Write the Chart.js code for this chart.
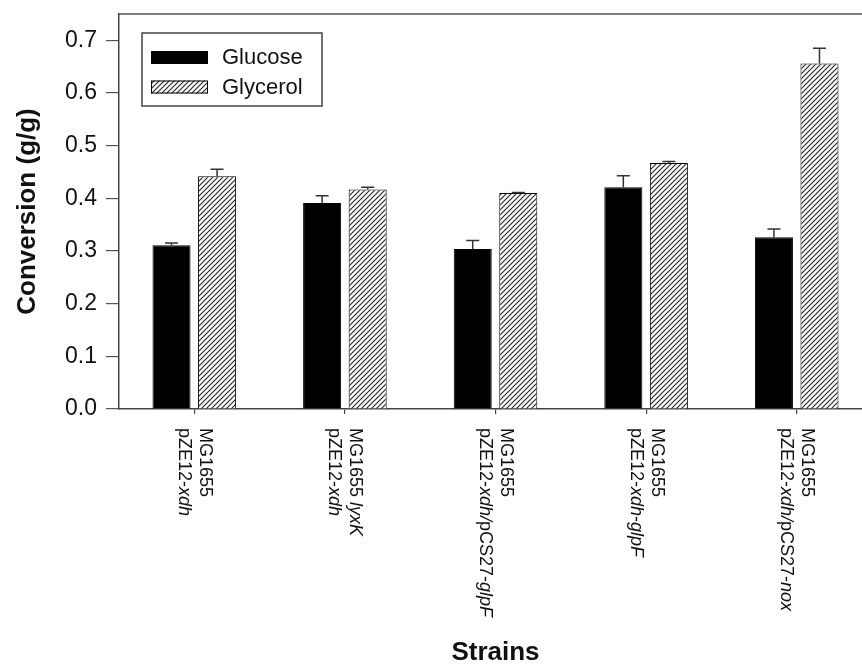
<!DOCTYPE html>
<html>
<head>
<meta charset="utf-8">
<script src="https://cdn.jsdelivr.net/npm/chart.js@4.4.1/dist/chart.umd.min.js"></script>
<style>
  html, body { margin: 0; padding: 0; background: #fff; overflow: hidden; }
  #wrap { width: 880px; height: 666px; position: relative; }
</style>
</head>
<body>
<div id="wrap"><canvas id="c"></canvas></div>
<script>
// Category labels: two lines each; segments between * are italic
const categories = [
  ["MG1655", "pZE12-*xdh*"],
  ["MG1655 *lyxK*", "pZE12-*xdh*"],
  ["MG1655", "pZE12-*xdh/*pCS27-*glpF*"],
  ["MG1655", "pZE12-*xdh*-*glpF*"],
  ["MG1655", "pZE12-*xdh/*pCS27-*nox*"]
];
const seriesNames = ["Glucose", "Glycerol"];
const glucose    = [0.311, 0.391, 0.304, 0.421, 0.326];
const glucoseErr = [0.004, 0.014, 0.016, 0.022, 0.016];
const glycerol    = [0.442, 0.417, 0.410, 0.467, 0.656];
const glycerolErr = [0.013, 0.004, 0.001, 0.003, 0.029];
const yTicks = [0, 0.1, 0.2, 0.3, 0.4, 0.5, 0.6, 0.7];
const yTitle = "Conversion (g/g)";
const xTitle = "Strains";

const FONT = "'Liberation Sans', Arial, sans-serif";

function hatchPattern() {
  const s = 5;
  const c = document.createElement('canvas');
  c.width = s; c.height = s;
  const g = c.getContext('2d');
  g.fillStyle = '#fff';
  g.fillRect(0, 0, s, s);
  g.strokeStyle = '#2a2a2a';
  g.lineWidth = 1.2;
  g.beginPath();
  g.moveTo(0, s); g.lineTo(s, 0);
  g.moveTo(-1, 1); g.lineTo(1, -1);
  g.moveTo(s - 1, s + 1); g.lineTo(s + 1, s - 1);
  g.stroke();
  return g.createPattern(c, 'repeat');
}
const hatch = hatchPattern();

const errorBars = {
  id: 'errorBars',
  afterDatasetsDraw(chart) {
    const ctx = chart.ctx;
    const ys = chart.scales.y;
    chart.data.datasets.forEach((ds, di) => {
      const meta = chart.getDatasetMeta(di);
      meta.data.forEach((el, i) => {
        const top = ys.getPixelForValue(ds.data[i] + ds.errors[i]);
        ctx.save();
        ctx.strokeStyle = '#333';
        ctx.lineWidth = 1.5;
        ctx.beginPath();
        ctx.moveTo(el.x, el.y);
        ctx.lineTo(el.x, top);
        ctx.moveTo(el.x - 6.5, top);
        ctx.lineTo(el.x + 6.5, top);
        ctx.stroke();
        ctx.restore();
      });
    });
  }
};

const frame = {
  id: 'frame',
  afterDraw(chart) {
    const {ctx, chartArea: a} = chart;
    ctx.save();
    ctx.strokeStyle = '#555';
    ctx.lineWidth = 1.5;
    ctx.beginPath();
    ctx.moveTo(a.left, a.top);
    ctx.lineTo(a.right, a.top);
    ctx.lineTo(a.right, a.bottom);
    ctx.stroke();
    ctx.restore();
  }
};

const legendBox = {
  id: 'legendBox',
  afterDraw(chart) {
    const ctx = chart.ctx;
    ctx.save();
    ctx.strokeStyle = '#444';
    ctx.lineWidth = 1.5;
    ctx.fillStyle = '#fff';
    ctx.fillRect(142, 33, 180, 73);
    ctx.strokeRect(142, 33, 180, 73);
    chart.data.datasets.forEach((ds, i) => {
      const y = 51 + i * 29.5;
      ctx.fillStyle = ds.backgroundColor;
      ctx.fillRect(151, y, 57, 13);
      ctx.strokeStyle = '#000';
      ctx.lineWidth = 1;
      ctx.strokeRect(151.5, y + 0.5, 56, 12);
      ctx.fillStyle = '#111';
      ctx.font = '22px ' + FONT;
      ctx.textBaseline = 'middle';
      ctx.textAlign = 'left';
      ctx.fillText(ds.label, 222, y + 7);
    });
    ctx.restore();
  }
};

const xLabels = {
  id: 'xLabels',
  afterDraw(chart) {
    const ctx = chart.ctx;
    const xs = chart.scales.x;
    ctx.save();
    ctx.fillStyle = '#111';
    ctx.textBaseline = 'middle';
    ctx.textAlign = 'left';
    categories.forEach((lines, i) => {
      const x = xs.getPixelForTick(i);
      ctx.save();
      ctx.translate(x, 428);
      ctx.rotate(Math.PI / 2);
      lines.forEach((line, li) => {
        const ly = (li === 0 ? -10.5 : 10.5);
        const parts = line.split('*');
        let lx = 0;
        parts.forEach((p, pi) => {
          if (!p) return;
          ctx.font = (pi % 2 === 1 ? 'italic ' : '') + '18px ' + FONT;
          ctx.fillText(p, lx, ly);
          lx += ctx.measureText(p).width;
        });
      });
      ctx.restore();
    });
    ctx.restore();
  }
};

new Chart(document.getElementById('c'), {
  type: 'bar',
  data: {
    labels: categories.map(l => l.join(' ').replace(/\*/g, '')),
    datasets: [
      { label: seriesNames[0], data: glucose, errors: glucoseErr,
        backgroundColor: '#000', borderColor: '#000', borderWidth: 1,
        barPercentage: 0.835, categoryPercentage: 0.605 },
      { label: seriesNames[1], data: glycerol, errors: glycerolErr,
        backgroundColor: hatch, borderColor: '#000', borderWidth: 1,
        barPercentage: 0.835, categoryPercentage: 0.605 }
    ]
  },
  options: {
    responsive: true,
    maintainAspectRatio: false,
    animation: false,
    layout: { padding: { top: 14, right: 8, left: 0, bottom: 0 } },
    plugins: { legend: { display: false }, tooltip: { enabled: false } },
    scales: {
      x: {
        offset: true,
        grid: { display: true, drawOnChartArea: false, drawTicks: true, tickLength: 5, color: '#444', lineWidth: 1.2, offset: false },
        border: { display: true, color: '#444', width: 1.5 },
        ticks: { display: false },
        title: { display: true, text: xTitle, color: '#111',
                 font: { family: FONT, size: 26, weight: 'bold', lineHeight: 1 },
                 padding: { top: 0, bottom: 0 } },
        afterFit(scale) { scale.height = 257; scale.paddingLeft = 0; scale.paddingRight = 0; }
      },
      y: {
        min: 0,
        max: 0.75,
        afterBuildTicks(scale) { scale.ticks = yTicks.map(v => ({ value: v })); },
        grid: { display: true, drawOnChartArea: false, drawTicks: true, tickLength: 13, color: '#555', lineWidth: 1.2 },
        border: { display: true, color: '#444', width: 1.5 },
        ticks: { color: '#111', padding: 9, font: { family: FONT, size: 23 },
                 callback: v => Number(v).toFixed(1) },
        title: { display: true, text: yTitle, color: '#111',
                 font: { family: FONT, size: 26, weight: 'bold', lineHeight: 1 },
                 padding: { top: 15, bottom: 0 } },
        afterFit(scale) { scale.width = 119; scale.paddingTop = 0; scale.paddingBottom = 0; }
      }
    }
  },
  plugins: [errorBars, frame, legendBox, xLabels]
});
</script>
</body>
</html>
